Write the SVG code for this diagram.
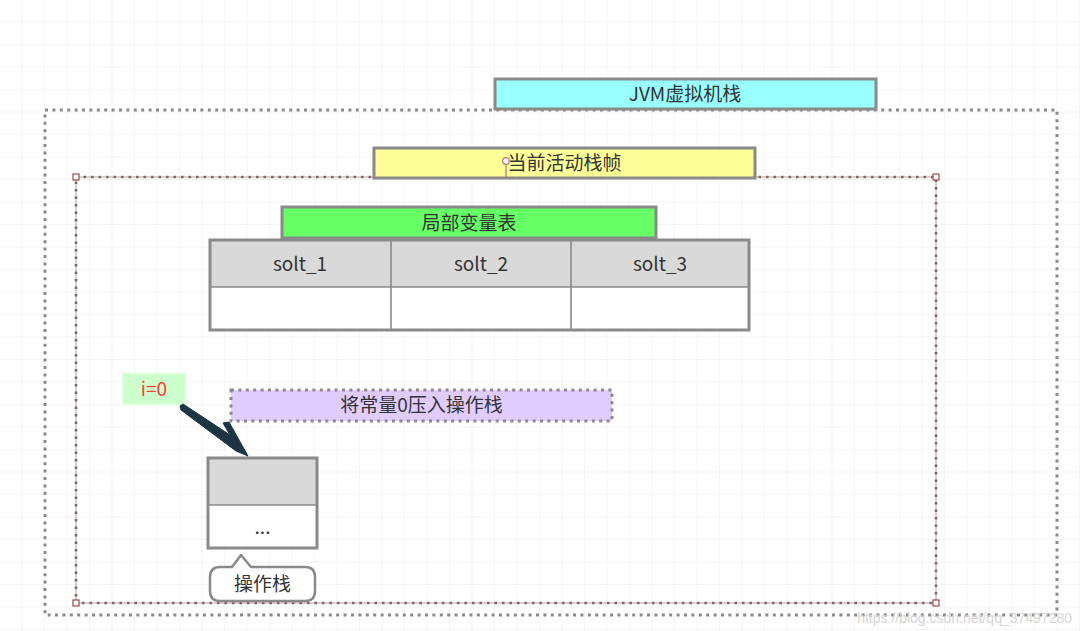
<svg xmlns="http://www.w3.org/2000/svg" width="1080" height="631" viewBox="0 0 1080 631">
<defs>
<pattern id="grid" width="22.5" height="22.5" patternUnits="userSpaceOnUse">
<path d="M22.5 0 V22.5 M0 22.5 H22.5" fill="none" stroke="#ececec" stroke-width="1"/>
</pattern>
<style>
.t{font-family:"Noto Sans CJK SC","Noto Sans",sans-serif;font-size:19px;fill:#333;text-anchor:middle}
.box{stroke:#8a8a8a;stroke-width:3}
.dotted{fill:none;stroke:#8a8a8a;stroke-width:3;stroke-dasharray:3 4.4}
.handle{fill:#fff;stroke:#a04848;stroke-width:1.2}
</style>
</defs>
<rect width="1080" height="631" fill="#fff"/>
<rect width="1080" height="631" fill="url(#grid)"/>

<g id="jvm-stack-frame">
<rect class="dotted" x="45" y="110" width="1012" height="505"/>
</g>
<g id="jvm-stack-label">
<rect class="box" x="495" y="79" width="381" height="30" fill="#99ffff"/>
<text class="t" x="685" y="101">JVM虚拟机栈</text>
</g>

<g id="current-frame">
<rect x="76" y="177" width="860" height="426" fill="none" stroke="#c49a9a" stroke-width="1"/>
<rect x="76" y="177" width="860" height="426" fill="none" stroke="#7a6a6a" stroke-width="2.6" stroke-dasharray="2.6 4.9"/>
<rect class="handle" x="73" y="174" width="6" height="6"/>
<rect class="handle" x="933" y="174" width="6" height="6"/>
<rect class="handle" x="73" y="600" width="6" height="6"/>
<rect class="handle" x="933" y="600" width="6" height="6"/>
</g>
<g id="current-frame-label">
<rect class="box" x="374" y="148" width="381" height="30" fill="#ffff99"/>
<line x1="506" y1="164" x2="506" y2="178" stroke="#b05a5a" stroke-width="1"/>
<circle cx="506" cy="161" r="3.3" fill="#fff" stroke="#c07070" stroke-width="1.2"/>
<text class="t" x="564.5" y="170">当前活动栈帧</text>
</g>

<g id="local-var-label">
<rect class="box" x="282" y="207" width="374" height="31" fill="#66ff66"/>
<text class="t" x="469" y="229.5">局部变量表</text>
</g>

<g id="local-var-table">
<rect x="210" y="240" width="539" height="47" fill="#d9d9d9"/>
<rect x="210" y="287" width="539" height="43" fill="#fff"/>
<line x1="210" y1="287" x2="749" y2="287" stroke="#8a8a8a" stroke-width="1.6"/>
<line x1="391" y1="240" x2="391" y2="330" stroke="#8a8a8a" stroke-width="1.6"/>
<line x1="571" y1="240" x2="571" y2="330" stroke="#8a8a8a" stroke-width="1.6"/>
<rect x="210" y="240" width="539" height="90" fill="none" stroke="#8a8a8a" stroke-width="3"/>
<text class="t" x="300" y="271">solt_1</text>
<text class="t" x="481" y="271">solt_2</text>
<text class="t" x="660" y="271">solt_3</text>
</g>

<g id="i0-label">
<rect x="122.5" y="373.5" width="63" height="31" fill="#ccffcc" stroke="#e2ffe2" stroke-width="1.5"/>
<text class="t" x="154" y="396" style="fill:#ff4040">i=0</text>
</g>

<g id="push-label">
<rect x="231" y="390" width="381" height="31" fill="#e0ccff"/>
<rect class="dotted" x="231" y="390" width="381" height="31"/>
<text class="t" x="421.5" y="412">将常量0压入操作栈</text>
</g>

<g id="operand-stack">
<rect x="208" y="458" width="109" height="47" fill="#d9d9d9"/>
<rect x="208" y="505" width="109" height="43" fill="#fff"/>
<line x1="208" y1="505" x2="317" y2="505" stroke="#8a8a8a" stroke-width="1.6"/>
<rect x="208" y="458" width="109" height="90" fill="none" stroke="#8a8a8a" stroke-width="3"/>
<text class="t" x="262.5" y="534">...</text>
</g>

<g id="operand-stack-callout">
<path d="M222 567 H232 L241 555 L251 567 H305 Q315 567 315 577 V591 Q315 601 305 601 H220 Q210 601 210 591 V577 Q210 567 220 567 Z" fill="#fff" stroke="#8a8a8a" stroke-width="2.5" stroke-linejoin="round"/>
<text class="t" x="262.5" y="591">操作栈</text>
</g>

<g id="connectors">
<path d="M180 406 L183 404 L230 435 L223 423 L229 422 L248 456 L236 451 L181 410 Z" fill="#1b3545" stroke="#1b3545" stroke-width="1" stroke-linejoin="round"/>
</g>

<text x="1072" y="623" style="font-family:'Liberation Sans',sans-serif;font-size:14px;fill:#d6d6d6;text-anchor:end">https://blog.csdn.net/qq_37497280</text>
</svg>
